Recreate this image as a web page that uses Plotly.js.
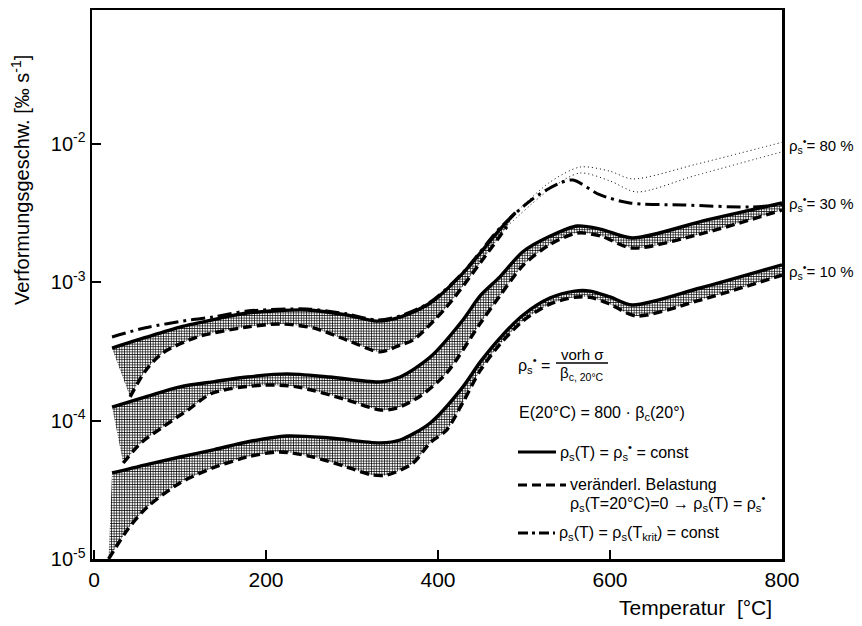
<!DOCTYPE html>
<html>
<head>
<meta charset="utf-8">
<script src="https://cdn.plot.ly/plotly-3.0.1.min.js"></script>
<style>html,body{margin:0;padding:0;background:#fff;}#chart{width:862px;height:626px;}</style>
</head>
<body>
<div id="chart"></div>
<script>
// Temperatur [°C] and Verformungsgeschwindigkeit [‰ s^-1]
// rho_s* = 10 %
const temp10Const = [21, 60, 100, 140, 178, 224, 274, 333, 356, 391, 429, 449, 472, 499, 530, 559, 577, 600, 626, 705, 800];
const rate10Const = [4.18e-5, 4.79e-5, 5.45e-5, 6.17e-5, 7.0e-5, 7.73e-5, 7.48e-5, 6.89e-5, 7.23e-5, 9.6e-5, 1.75e-4, 2.64e-4, 3.94e-4, 5.78e-4, 7.66e-4, 8.6e-4, 8.6e-4, 7.8e-4, 6.82e-4, 9.05e-4, 1.33e-3];
const temp10Var = [17, 40, 62, 100, 138, 178, 216, 255, 294, 324, 341, 371, 391, 410, 429, 449, 472, 499, 530, 559, 577, 600, 630, 705, 800];
const rate10Var = [1.0e-5, 1.66e-5, 2.37e-5, 3.54e-5, 4.54e-5, 5.45e-5, 5.93e-5, 5.45e-5, 4.61e-5, 4.04e-5, 4.04e-5, 4.93e-5, 6.92e-5, 8.53e-5, 1.35e-4, 2.29e-4, 3.55e-4, 5.25e-4, 6.92e-4, 7.76e-4, 7.76e-4, 6.92e-4, 5.69e-4, 7.41e-4, 1.12e-3];
// rho_s* = 30 %
const temp30Const = [21, 60, 100, 140, 178, 224, 274, 333, 356, 391, 429, 449, 472, 499, 530, 562, 590, 626, 713, 800];
const rate30Const = [1.25e-4, 1.48e-4, 1.75e-4, 1.91e-4, 2.06e-4, 2.17e-4, 2.06e-4, 1.90e-4, 2.06e-4, 2.87e-4, 5.32e-4, 7.94e-4, 1.09e-3, 1.66e-3, 2.14e-3, 2.54e-3, 2.40e-3, 2.08e-3, 2.81e-3, 3.72e-3];
const temp30Var = [34, 55, 80, 110, 138, 197, 236, 294, 333, 352, 380, 410, 449, 472, 499, 530, 562, 590, 626, 713, 800];
const rate30Var = [4.93e-5, 6.92e-5, 8.97e-5, 1.20e-4, 1.58e-4, 1.80e-4, 1.75e-4, 1.41e-4, 1.19e-4, 1.23e-4, 1.51e-4, 2.20e-4, 5.01e-4, 7.94e-4, 1.32e-3, 1.86e-3, 2.26e-3, 2.14e-3, 1.76e-3, 2.29e-3, 3.31e-3];
// rho_s* = 80 %
const temp80Const = [21, 60, 100, 140, 178, 248, 294, 329, 356, 391, 429, 472, 490];
const rate80Const = [3.33e-4, 3.98e-4, 4.73e-4, 5.37e-4, 5.97e-4, 6.28e-4, 5.78e-4, 5.22e-4, 5.58e-4, 7.05e-4, 1.16e-3, 2.40e-3, 3.16e-3];
const temp80ConstExt = [490, 530, 565, 600, 626, 700, 800];
const rate80ConstExt = [3.16e-3, 5.25e-3, 6.76e-3, 6.31e-3, 5.55e-3, 7.08e-3, 1.02e-2];
const temp80Var = [42, 60, 80, 120, 178, 216, 255, 294, 333, 356, 371, 410, 449, 480];
const rate80Var = [1.48e-4, 2.29e-4, 3.07e-4, 4.01e-4, 4.73e-4, 4.98e-4, 4.66e-4, 3.81e-4, 3.13e-4, 3.51e-4, 3.81e-4, 6.61e-4, 1.37e-3, 2.51e-3];
const temp80VarExt = [480, 530, 565, 600, 631, 700, 800];
const rate80VarExt = [2.51e-3, 4.68e-3, 6.12e-3, 5.37e-3, 4.47e-3, 5.89e-3, 8.71e-3];
// rho_s(T) = rho_s(T_krit) = const
const tempKrit = [21, 60, 112, 138, 178, 248, 294, 329, 356, 391, 429, 472, 510, 540, 557, 588, 623, 685, 763, 800];
const rateKrit = [4.01e-4, 4.68e-4, 5.32e-4, 5.58e-4, 6.17e-4, 6.38e-4, 5.89e-4, 5.31e-4, 5.69e-4, 7.16e-4, 1.17e-3, 2.45e-3, 3.98e-3, 5.13e-3, 5.45e-3, 4.27e-3, 3.72e-3, 3.60e-3, 3.48e-3, 3.63e-3];

const xTicks = [0, 200, 400, 600, 800];
const yTicks = [1e-5, 1e-4, 1e-3, 1e-2, 1e-1];
const yTickText = ['10<sup>-5</sup>', '10<sup>-4</sup>', '10<sup>-3</sup>', '10<sup>-2</sup>', '10<sup>-1</sup>'];
const bandLabels = ['ρ<sub>s</sub><sup>•</sup>= 80 %', 'ρ<sub>s</sub><sup>•</sup>= 30 %', 'ρ<sub>s</sub><sup>•</sup>= 10 %'];

const FONT = 'Liberation Sans, Arial, sans-serif';
const pattern = {shape: '+', fgcolor: '#000', bgcolor: 'rgba(255,255,255,0)', size: 2.6, solidity: 0.45};
const solid = {color: '#000', width: 3.4, shape: 'spline', smoothing: 0.8};
const dashed = {color: '#000', width: 3.4, dash: '9px,5px', shape: 'spline', smoothing: 0.8};
const dotted = {color: '#000', width: 1, dash: '1px,3px', shape: 'spline', smoothing: 0.8};

function band(tv, rv, tc, rc, name) {
  return [
    {x: tv, y: rv, mode: 'lines', line: dashed, name: name + ' veränderl.', hoverinfo: 'skip'},
    {x: tc, y: rc, mode: 'lines', line: solid, fill: 'tonexty', fillpattern: pattern, fillcolor: 'rgba(0,0,0,0)', name: name + ' const', hoverinfo: 'skip'}
  ];
}

const traces = [].concat(
  band(temp10Var, rate10Var, temp10Const, rate10Const, '10 %'),
  band(temp30Var, rate30Var, temp30Const, rate30Const, '30 %'),
  band(temp80Var, rate80Var, temp80Const, rate80Const, '80 %'),
  [
    {x: temp80ConstExt, y: rate80ConstExt, mode: 'lines', line: dotted, name: '80 % const ext'},
    {x: temp80VarExt, y: rate80VarExt, mode: 'lines', line: dotted, name: '80 % var ext'},
    {x: tempKrit, y: rateKrit, mode: 'lines', line: {color: '#000', width: 3, dash: '14px,5px,3px,5px', shape: 'spline', smoothing: 0.8}, name: 'T krit'}
  ]
);

// pixel -> paper helpers for annotation placement (plot area 92..782 x 10..559)
const px = v => (v - 92) / 690;
const py = v => (559 - v) / 549;

const txt = (x, y, text, opts) => Object.assign({xref: 'paper', yref: 'paper', x: px(x), y: py(y), text: text, showarrow: false, xanchor: 'left', yanchor: 'middle', font: {family: FONT, size: 16, color: '#000'}}, opts || {});

const annotations = [
  txt(787, 145, bandLabels[0], {font: {family: FONT, size: 15, color: '#000'}}),
  txt(787, 203, bandLabels[1], {font: {family: FONT, size: 15, color: '#000'}}),
  txt(787, 271, bandLabels[2], {font: {family: FONT, size: 15, color: '#000'}}),
  txt(516, 365, 'ρ<sub>s</sub><sup>•</sup> =', {}),
  txt(582, 354, 'vorh σ', {xanchor: 'center', font: {family: FONT, size: 15, color: '#000'}}),
  txt(582, 373, 'β<sub>c, 20°C</sub>', {xanchor: 'center', font: {family: FONT, size: 15, color: '#000'}}),
  txt(517, 413, 'E(20°C) = 800 · β<sub>c</sub>(20°)', {}),
  txt(558, 452, 'ρ<sub>s</sub>(T) = ρ<sub>s</sub><sup>•</sup> = const', {}),
  txt(568, 484, 'veränderl. Belastung', {}),
  txt(568, 503, 'ρ<sub>s</sub>(T=20°C)=0 → ρ<sub>s</sub>(T) = ρ<sub>s</sub><sup>•</sup>', {}),
  txt(557, 533, 'ρ<sub>s</sub>(T) = ρ<sub>s</sub>(T<sub>krit</sub>) = const', {}),
  txt(774, 607, 'Temperatur  [°C]', {xanchor: 'right', font: {family: FONT, size: 21, color: '#000'}}),
  txt(21, 180, 'Verformungsgeschw. [‰ s<sup>-1</sup>]', {xanchor: 'center', textangle: -90, font: {family: FONT, size: 20, color: '#000'}})
];

const lineShape = (x0, x1, y, dash) => ({type: 'line', xref: 'paper', yref: 'paper', x0: px(x0), x1: px(x1), y0: py(y), y1: py(y), line: {color: '#000', width: 3, dash: dash}});
const shapes = [
  {type: 'line', xref: 'paper', yref: 'paper', x0: px(556), x1: px(608), y0: py(363), y1: py(363), line: {color: '#000', width: 1.5}},
  lineShape(518, 556, 452, 'solid'),
  lineShape(518, 566, 485, '9px,5px'),
  lineShape(518, 555, 533, '10px,4px,3px,4px')
];

const layout = {
  width: 862, height: 626,
  margin: {l: 92, r: 80, t: 10, b: 67},
  paper_bgcolor: '#fff', plot_bgcolor: '#fff',
  showlegend: false,
  font: {family: FONT, size: 20, color: '#000'},
  xaxis: {
    range: [-2.3, 800], tickvals: xTicks, ticktext: xTicks.map(String),
    ticks: 'inside', ticklen: 9, tickwidth: 2, tickcolor: '#000',
    showline: true, linewidth: 2.5, linecolor: '#000', mirror: true,
    showgrid: false, zeroline: false, tickfont: {family: FONT, size: 21, color: '#000'}
  },
  yaxis: {
    type: 'log', range: [-5, -1.036], tickvals: yTicks, ticktext: yTickText,
    ticks: 'inside', ticklen: 9, tickwidth: 2, tickcolor: '#000',
    showline: true, linewidth: 2.5, linecolor: '#000', mirror: true,
    showgrid: false, zeroline: false, tickfont: {family: FONT, size: 20, color: '#000'}
  },
  annotations: annotations,
  shapes: shapes
};

Plotly.newPlot('chart', traces, layout, {displayModeBar: false, staticPlot: true});
</script>
</body>
</html>
